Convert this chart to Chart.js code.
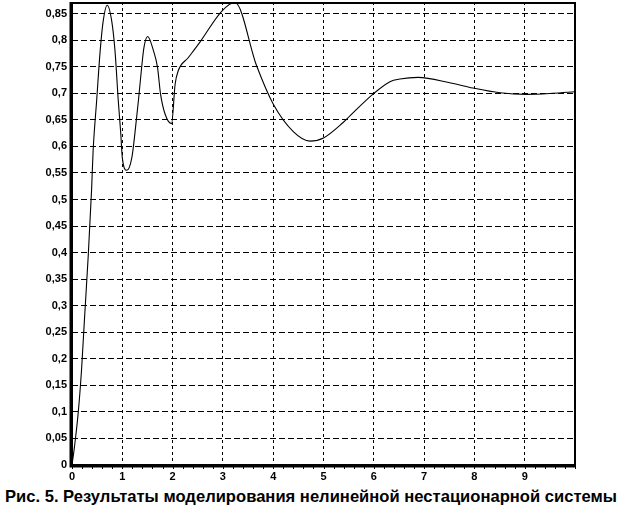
<!DOCTYPE html>
<html>
<head>
<meta charset="utf-8">
<script src="https://cdn.jsdelivr.net/npm/chart.js@4"></script>
<style>
  html, body { margin: 0; padding: 0; background: #fff; }
  #wrap { width: 622px; height: 484px; position: relative; }
  #caption {
    font-family: 'Liberation Sans', Arial, sans-serif;
    font-weight: bold; font-size: 16.6px; color: #000;
    text-align: center; width: 622px; margin-top: 3px; white-space: nowrap;
  }
</style>
</head>
<body>
<div id="wrap"><canvas id="chart" width="622" height="484"></canvas></div>
<div id="caption">Рис. 5. Результаты моделирования нелинейной нестационарной системы</div>
<script>
// ===== DATA =====
const timeValues = [0, 0.05, 0.125, 0.19, 0.245, 0.325, 0.39, 0.42, 0.49, 0.56, 0.62, 0.70,
  0.79, 0.855, 0.92, 0.97, 1.0, 1.09, 1.19, 1.25, 1.32, 1.385, 1.43, 1.505,
  1.62, 1.70, 1.76, 1.85, 1.98, 2.05, 2.11, 2.31, 2.54, 2.98, 3.24,
  3.67, 4.0, 4.4, 4.73, 5.0, 5.39, 5.53, 5.99, 6.32, 6.52, 6.88,
  7.51, 7.97, 8.51, 9.04, 9.56, 10];
const outputValues = [0, 0.035, 0.1, 0.18, 0.27, 0.398, 0.52, 0.592, 0.686, 0.78, 0.836, 0.866,
  0.836, 0.78, 0.686, 0.624, 0.579, 0.555, 0.579, 0.624, 0.686, 0.749, 0.786, 0.807,
  0.78, 0.749, 0.699, 0.661, 0.643, 0.717, 0.742, 0.767, 0.796, 0.855, 0.871,
  0.752, 0.68, 0.628, 0.61, 0.616, 0.645, 0.658, 0.699, 0.722, 0.727, 0.73,
  0.72, 0.71, 0.701, 0.698, 0.700, 0.703];
const xTicks = [0, 1, 2, 3, 4, 5, 6, 7, 8, 9];
const yStep = 0.05;
const yMax = 0.872;
const xMax = 10;

const points = timeValues.map((t, i) => ({ x: t, y: outputValues[i] }));
const fmt = v => String(+v.toFixed(2)).replace('.', ',');

// frame around plot + small minor ticks on x axis
const framePlugin = {
  id: 'frame',
  afterDraw(chart) {
    const { ctx, chartArea: a, scales } = chart;
    ctx.save();
    ctx.strokeStyle = '#000';
    ctx.lineWidth = 2;
    ctx.strokeRect(a.left, a.top + 1, a.right - a.left, a.bottom - a.top - 1);
    ctx.lineWidth = 3;
    ctx.beginPath();
    ctx.moveTo(a.left - 1, a.top);
    ctx.lineTo(a.left - 1, a.bottom + 1);
    ctx.lineTo(a.right + 1, a.bottom + 1);
    ctx.stroke();
    ctx.lineWidth = 1;
    ctx.beginPath();
    for (let t = 0; t < xMax; t += 0.2) {
      const px = Math.round(scales.x.getPixelForValue(t)) + 0.5;
      ctx.moveTo(px, a.bottom + 2);
      ctx.lineTo(px, a.bottom + 4);
    }
    ctx.stroke();
    ctx.restore();
  }
};

new Chart(document.getElementById('chart'), {
  type: 'line',
  data: {
    datasets: [{
      data: points,
      borderColor: '#000',
      borderWidth: 1.1,
      pointRadius: 0,
      fill: false,
      cubicInterpolationMode: 'monotone'
    }]
  },
  options: {
    responsive: false,
    animation: false,
    layout: { padding: { left: 0, right: 47, top: 2, bottom: 0 } },
    plugins: { legend: { display: false }, tooltip: { enabled: false } },
    scales: {
      x: {
        type: 'linear',
        min: 0, max: xMax,
        afterBuildTicks: s => { s.ticks = xTicks.concat([xMax]).map(v => ({ value: v })); },
        afterFit: s => { s.height = 19; s.paddingLeft = 0; s.paddingRight = 0; },
        ticks: {
          color: '#000', padding: 5,
          font: { family: 'Liberation Sans', size: 11, weight: 'bold' },
          callback: v => (v === xMax ? '' : String(v)),
          maxRotation: 0
        },
        grid: { color: '#000', lineWidth: 1, drawTicks: false },
        border: { display: false, dash: [3, 3] }
      },
      y: {
        type: 'linear',
        min: 0, max: yMax,
        afterFit: s => { s.width = 72; s.paddingTop = 0; s.paddingBottom = 0; },
        ticks: {
          stepSize: yStep, includeBounds: false, color: '#000', padding: 5,
          font: { family: 'Liberation Sans', size: 11, weight: 'bold' },
          callback: v => fmt(v)
        },
        grid: { color: '#000', lineWidth: 1, drawTicks: false },
        border: { display: false, dash: [6, 3] }
      }
    }
  },
  plugins: [framePlugin]
});
</script>
</body>
</html>
